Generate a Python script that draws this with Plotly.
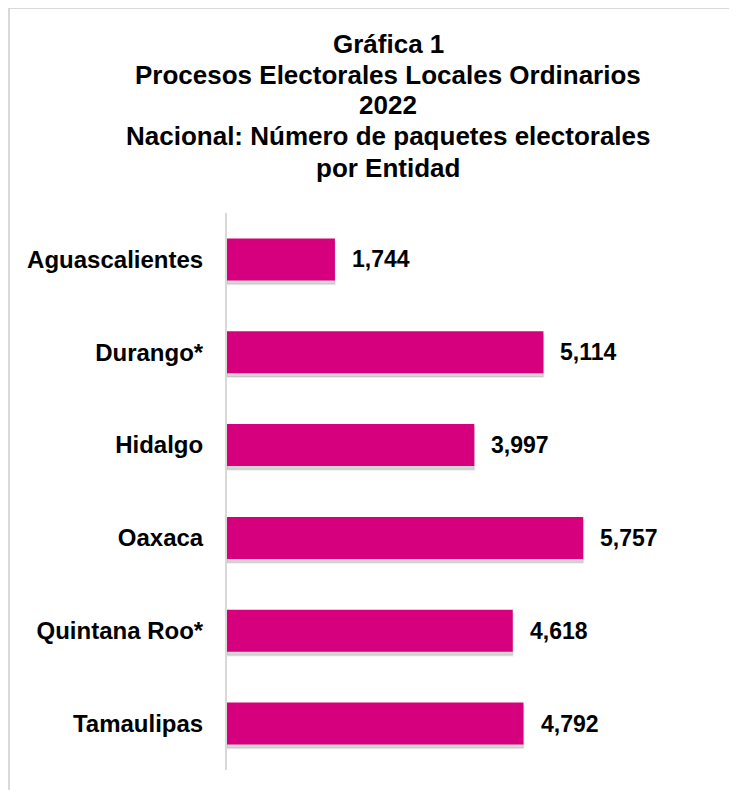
import plotly.graph_objects as go

entidades = ["Aguascalientes", "Durango*", "Hidalgo", "Oaxaca", "Quintana Roo*", "Tamaulipas"]
paquetes = [1744, 5114, 3997, 5757, 4618, 4792]
titulo = ["Gráfica 1", "Procesos Electorales Locales Ordinarios", "2022",
          "Nacional: Número de paquetes electorales", "por Entidad"]

# page body has an 8px margin, so the figure is drawn 8px smaller and shifted
OFF = 8
W, H = 737 - OFF, 790 - OFF
L, R, T, B = 227 - OFF, 15, 213 - OFF, 20
PW, PH = W - L - R, H - T - B

def px_x(x):
    return (x - OFF - L) / PW

def px_y(y):
    return (H - B - (y - OFF)) / PH

FONT = "Liberation Sans, Arial, sans-serif"
BAR_W = 0.4526

fig = go.Figure()
# soft shadow
fig.add_trace(go.Bar(
    y=entidades, x=paquetes, orientation="h",
    width=BAR_W, offset=-BAR_W / 2 + 0.04,
    marker=dict(color="rgba(0,0,0,0.16)", line=dict(width=2, color="rgba(0,0,0,0.07)")),
    hoverinfo="skip", showlegend=False,
))
fig.add_trace(go.Bar(
    y=entidades, x=paquetes, orientation="h",
    width=BAR_W, offset=-BAR_W / 2,
    marker=dict(color="#D6007F", line=dict(width=0)),
    showlegend=False,
))

annotations = []
for e, v in zip(entidades, paquetes):
    annotations.append(dict(
        x=v, y=e, xref="x", yref="y", text=f"<b>{v:,}</b>",
        showarrow=False, xanchor="left", yanchor="middle", xshift=15,
        font=dict(family=FONT, size=23, color="#000000"),
    ))

title_y = [44, 75, 105, 136, 168]
for t, yy in zip(titulo, title_y):
    annotations.append(dict(
        x=px_x(388), y=px_y(yy), xref="paper", yref="paper", text=f"<b>{t}</b>",
        showarrow=False, xanchor="center", yanchor="middle",
        font=dict(family=FONT, size=26, color="#000000"),
    ))

shapes = [
    dict(type="line", xref="paper", yref="paper",
         x0=px_x(9), x1=px_x(9), y0=px_y(7), y1=px_y(800),
         line=dict(color="#d9d9d9", width=2)),
    dict(type="line", xref="paper", yref="paper",
         x0=px_x(8), x1=px_x(745), y0=px_y(8), y1=px_y(8),
         line=dict(color="#d9d9d9", width=2)),
]

fig.update_layout(
    width=W, height=H,
    margin=dict(l=L, r=R, t=T, b=B, pad=0),
    paper_bgcolor="white", plot_bgcolor="white",
    barmode="overlay",
    annotations=annotations, shapes=shapes,
    xaxis=dict(range=[0, 8000], visible=False, showgrid=False, zeroline=False),
    yaxis=dict(
        autorange="reversed", showgrid=False, zeroline=False,
        showline=True, linecolor="#d9d9d9", linewidth=2,
        ticks="", ticklabelstandoff=17,
        tickfont=dict(family=FONT, size=24, color="#000000"),
        tickvals=entidades, ticktext=[f"<b>{e}</b>" for e in entidades],
    ),
)

fig.write_html("out.html")
